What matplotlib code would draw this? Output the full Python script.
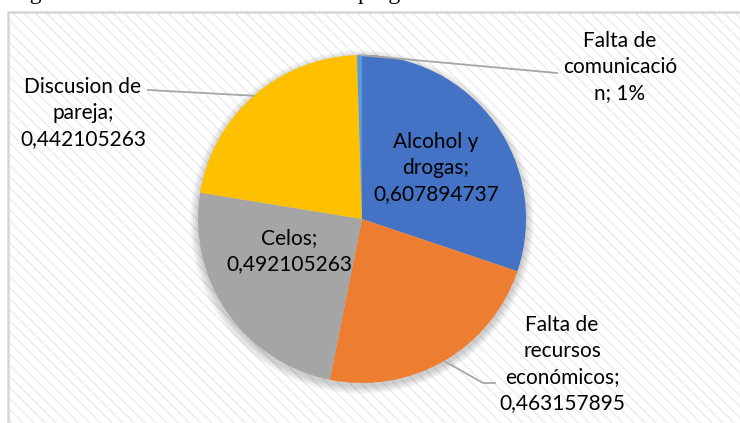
import matplotlib
matplotlib.use("Agg")
import matplotlib.pyplot as plt
import numpy as np
from matplotlib.patches import Rectangle, Circle

# ---- data -------------------------------------------------------------
categories = [
    "Alcohol y drogas",
    "Falta de recursos económicos",
    "Celos",
    "Discusion de pareja",
    "Falta de comunicación",
]
values = [0.607894737, 0.463157895, 0.492105263, 0.442105263, 0.01]
label_texts = [
    "Alcohol y\ndrogas;\n0,607894737",
    "Falta de\nrecursos\neconómicos;\n0,463157895",
    "Celos;\n0,492105263",
    "Discusion de\npareja;\n0,442105263",
    "Falta de\ncomunicació\nn; 1%",
]
colors = ["#4472C4", "#ED7D31", "#A5A5A5", "#FFC000", "#5B9BD5"]

# ---- layout (pixel coords, y measured from top) -------------------------
W, H = 740, 423
CENTER = (362, 219)
RADIUS = 164
# label centre positions
label_pos = [(436, 168), (562, 364), (289, 251), (83, 113), (620, 67)]
# leader-line end points on the label side (None = label inside slice)
leader_ends = [None, [(483, 383), (495, 383)], None, [(148, 90)], [(557, 73)]]


def px(x, y):
    return x, H - y


plt.rcParams["hatch.linewidth"] = 1.0
fig = plt.figure(figsize=(W / 100, H / 100), dpi=100)
ax = fig.add_axes([0, 0, 1, 1])

# chart area with diagonal texture
ax.add_patch(Rectangle(px(8, H + 20), 800, H - 12 + 20, facecolor="white",
                       edgecolor="none", zorder=0))
ax.add_patch(Rectangle(px(8, H + 20), 800, H - 12 + 20, facecolor="none",
                       edgecolor="#ececec", hatch="\\\\\\", linewidth=0, zorder=0.5))
ax.add_patch(Rectangle(px(8, H + 20), 800, H - 12 + 20, facecolor="none",
                       edgecolor="#d6d6d6", linewidth=1.8, zorder=0.6))

# soft shadow under the pie
cx, cy = px(*CENTER)
for k in range(8):
    ax.add_patch(Circle((cx, cy - 3), RADIUS + 1 + k, facecolor="black",
                        edgecolor="none", alpha=0.025, zorder=0.8))

wedges, _ = ax.pie(values, colors=colors, startangle=90, counterclock=False,
                   center=(cx, cy), radius=RADIUS,
                   wedgeprops=dict(linewidth=0))
for w in wedges:
    w.set_zorder(2)

ax.set_xlim(0, W)
ax.set_ylim(0, H)
ax.set_aspect("equal")
ax.axis("off")

font = dict(family=["Lato", "DejaVu Sans"], fontsize=15, color="black",
            ha="center", va="center", linespacing=1.38, zorder=4)

for w, txt, pos, ends in zip(wedges, label_texts, label_pos, leader_ends):
    ax.text(*px(*pos), txt, **font)
    if ends is None:
        continue
    mid = np.deg2rad((w.theta1 + w.theta2) / 2)
    xs = [cx + RADIUS * np.cos(mid)] + [px(*p)[0] for p in ends]
    ys = [cy + RADIUS * np.sin(mid)] + [px(*p)[1] for p in ends]
    ax.plot(xs, ys, color="#a6a6a6", linewidth=1.3, zorder=3)

# caption above the chart, cropped in the source image
cap = dict(family="Liberation Serif", fontsize=17, color="black", va="baseline")
fig.text(10 / W, 1 + 1 / H, "Figura", **cap)
fig.text(358 / W, 1 + 1 / H, "programa", **cap)

fig.savefig("out.png", dpi=100)
